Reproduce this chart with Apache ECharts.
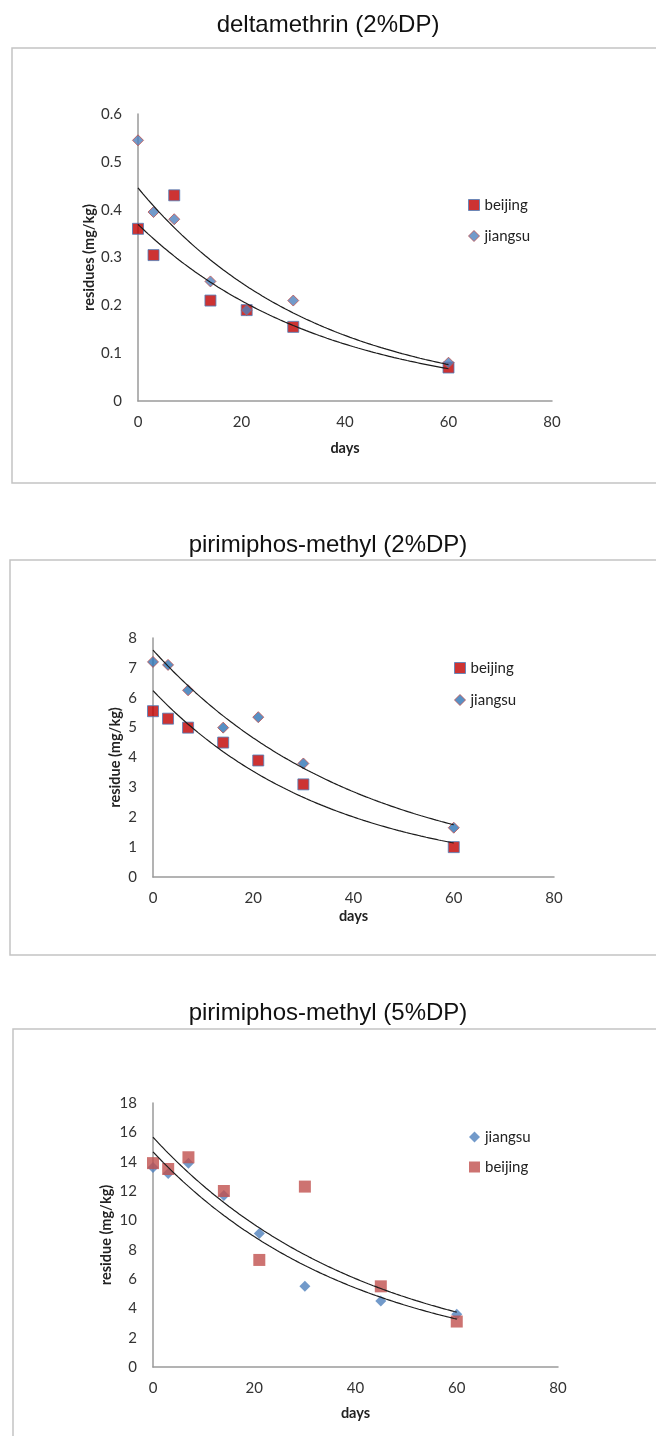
<!DOCTYPE html>
<html>
<head>
<meta charset="utf-8">
<title>residue decline</title>
<script src="https://cdn.jsdelivr.net/npm/echarts@6/dist/echarts.min.js"></script>
<style>
  html, body { margin: 0; padding: 0; background: #fff; }
  #main { width: 656px; height: 1436px; }
</style>
</head>
<body>
<div id="main"></div>
<script>
// sampling days
const days = [0, 3, 7, 14, 21, 30, 60]
const days5 = [0, 3, 7, 14, 21, 30, 45, 60]

// deltamethrin (2%DP)
const deltaBeijing = [0.36, 0.305, 0.43, 0.21, 0.19, 0.155, 0.07]
const deltaJiangsu = [0.545, 0.395, 0.38, 0.25, 0.19, 0.21, 0.08]

// pirimiphos-methyl (2%DP)
const pm2Beijing = [5.55, 5.3, 5.0, 4.5, 3.9, 3.1, 1.0]
const pm2Jiangsu = [7.2, 7.1, 6.25, 5.0, 5.35, 3.8, 1.65]

// pirimiphos-methyl (5%DP)
const pm5Jiangsu = [13.6, 13.2, 13.9, 11.7, 9.1, 5.5, 4.5, 3.6]
const pm5Beijing = [13.9, 13.5, 14.3, 12.0, 7.3, 12.3, 5.5, 3.1]

const titles = ['deltamethrin (2%DP)', 'pirimiphos-methyl (2%DP)', 'pirimiphos-methyl (5%DP)']
const yNames = ['residues (mg/kg)', 'residue (mg/kg)', 'residue (mg/kg)']

const labelFont = 'Lato, "Open Sans", sans-serif'

// exponential trendline (least squares on ln y), like the spreadsheet one
const expTrend = (xs, ys) => {
  const n = xs.length
  const ls = ys.map(v => Math.log(v))
  const mx = xs.reduce((a, b) => a + b, 0) / n
  const my = ls.reduce((a, b) => a + b, 0) / n
  let sxy = 0, sxx = 0
  xs.forEach((x, i) => {
    sxy += (x - mx) * (ls[i] - my)
    sxx += (x - mx) * (x - mx)
  })
  const b = sxy / sxx
  const a = Math.exp(my - b * mx)
  const last = xs[n - 1]
  const pts = []
  for (let x = xs[0]; x <= last; x += 0.5) pts.push([x, a * Math.exp(b * x)])
  return pts
}

const pairs = (xs, ys) => xs.map((x, i) => [x, ys[i]])

const scatter = (name, idx, data, symbol, size, color, border) => ({
  name,
  type: 'scatter',
  xAxisIndex: idx,
  yAxisIndex: idx,
  data,
  symbol,
  symbolSize: size,
  itemStyle: { color, borderColor: border || color, borderWidth: border ? 1 : 0 },
  z: 2,
  silent: true
})

const trend = (idx, pts) => ({
  type: 'line',
  xAxisIndex: idx,
  yAxisIndex: idx,
  data: pts,
  showSymbol: false,
  smooth: false,
  lineStyle: { color: '#1c1c1c', width: 1.2 },
  z: 3,
  silent: true
})

const grids = [
  { left: 138, top: 114, width: 414, height: 287 },
  { left: 153, top: 638, width: 401, height: 239 },
  { left: 153, top: 1103, width: 405, height: 264 }
]
const yRange = [[0.6, 0.1], [8, 1], [18, 2]]
const yGap = [41, 30, 39]
const xGap = [40, 32, 39]

const nameStyle = { fontFamily: labelFont, fontWeight: 'bold', fontSize: 14.5, color: '#222' }
const tickStyle = { fontFamily: labelFont, fontSize: 15, color: '#333' }

const xAxes = grids.map((g, i) => ({
  type: 'value',
  gridIndex: i,
  min: 0,
  max: 80,
  interval: 20,
  name: 'days',
  nameLocation: 'middle',
  nameGap: xGap[i],
  nameTextStyle: nameStyle,
  axisLine: { lineStyle: { color: '#9a9a9a', width: 1.5 } },
  axisTick: { show: false },
  splitLine: { show: false },
  axisLabel: Object.assign({ margin: 14 }, tickStyle)
}))

const yAxes = grids.map((g, i) => ({
  type: 'value',
  gridIndex: i,
  min: 0,
  max: yRange[i][0],
  interval: yRange[i][1],
  name: yNames[i],
  nameLocation: 'middle',
  nameGap: yGap[i],
  nameMoveOverlap: false,
  nameTextStyle: nameStyle,
  axisLine: { show: true, lineStyle: { color: '#9a9a9a', width: 1.5 } },
  axisTick: { show: false },
  splitLine: { show: false },
  axisLabel: Object.assign({ margin: 16 }, tickStyle)
}))

const legendText = { fontFamily: labelFont, fontSize: 15, color: '#222', lineHeight: 18 }
const legends = [
  {
    left: 463, top: 191, orient: 'vertical', itemGap: 13, itemWidth: 11, itemHeight: 11,
    textStyle: legendText, selectedMode: false,
    data: [
      { name: 'beijing', icon: 'rect', itemStyle: { color: '#c00000', borderColor: '#4f81bd', borderWidth: 1 } },
      { name: 'jiangsu', icon: 'diamond', itemStyle: { color: '#4f81bd', borderColor: '#c0504d', borderWidth: 1 } }
    ]
  },
  {
    left: 449, top: 654, orient: 'vertical', itemGap: 14, itemWidth: 11, itemHeight: 11,
    textStyle: legendText, selectedMode: false,
    data: [
      { name: 'beijing', icon: 'rect', itemStyle: { color: '#c00000', borderColor: '#4f81bd', borderWidth: 1 } },
      { name: 'jiangsu', icon: 'diamond', itemStyle: { color: '#2e74b5', borderColor: '#c0504d', borderWidth: 1 } }
    ]
  },
  {
    left: 464, top: 1123, orient: 'vertical', itemGap: 12, itemWidth: 11, itemHeight: 11,
    textStyle: legendText, selectedMode: false,
    data: [
      { name: 'jiangsu', icon: 'diamond', itemStyle: { color: '#4f81bd', borderWidth: 0 } },
      { name: 'beijing', icon: 'rect', itemStyle: { color: '#c0504d', borderWidth: 0 } }
    ]
  }
]

const titleTops = [11, 531, 999]
const frames = [
  { x: 12, y: 48, h: 435 },
  { x: 10, y: 560, h: 395 },
  { x: 13, y: 1029, h: 480 }
]

const option = {
  backgroundColor: '#fff',
  animation: false,
  title: titles.map((t, i) => ({
    text: t,
    left: 'center',
    top: titleTops[i],
    padding: 0,
    textStyle: { fontFamily: '"Liberation Sans", Arial, sans-serif', fontWeight: 'normal', fontSize: 24, lineHeight: 28, color: '#111' }
  })),
  graphic: frames.map(f => ({
    type: 'rect',
    shape: { x: f.x, y: f.y, width: 700, height: f.h },
    style: { fill: 'none', stroke: '#c4c4c4', lineWidth: 1.5 },
    silent: true
  })),
  grid: grids,
  xAxis: xAxes,
  yAxis: yAxes,
  legend: legends,
  series: [
    scatter('beijing', 0, pairs(days, deltaBeijing), 'rect', 11, '#c00000', '#4f81bd'),
    scatter('jiangsu', 0, pairs(days, deltaJiangsu), 'diamond', 11, '#4f81bd', '#c0504d'),
    trend(0, expTrend(days, deltaBeijing)),
    trend(0, expTrend(days, deltaJiangsu)),

    scatter('beijing', 1, pairs(days, pm2Beijing), 'rect', 11, '#c00000', '#4f81bd'),
    scatter('jiangsu', 1, pairs(days, pm2Jiangsu), 'diamond', 11, '#2e74b5', '#c0504d'),
    trend(1, expTrend(days, pm2Beijing)),
    trend(1, expTrend(days, pm2Jiangsu)),

    scatter('jiangsu', 2, pairs(days5, pm5Jiangsu), 'diamond', 11, '#4f81bd'),
    scatter('beijing', 2, pairs(days5, pm5Beijing), 'rect', 12, '#c0504d'),
    trend(2, expTrend(days5, pm5Jiangsu)),
    trend(2, expTrend(days5, pm5Beijing))
  ]
}

const chart = echarts.init(document.getElementById('main'), null, { renderer: 'canvas' })
chart.setOption(option)
</script>
</body>
</html>
